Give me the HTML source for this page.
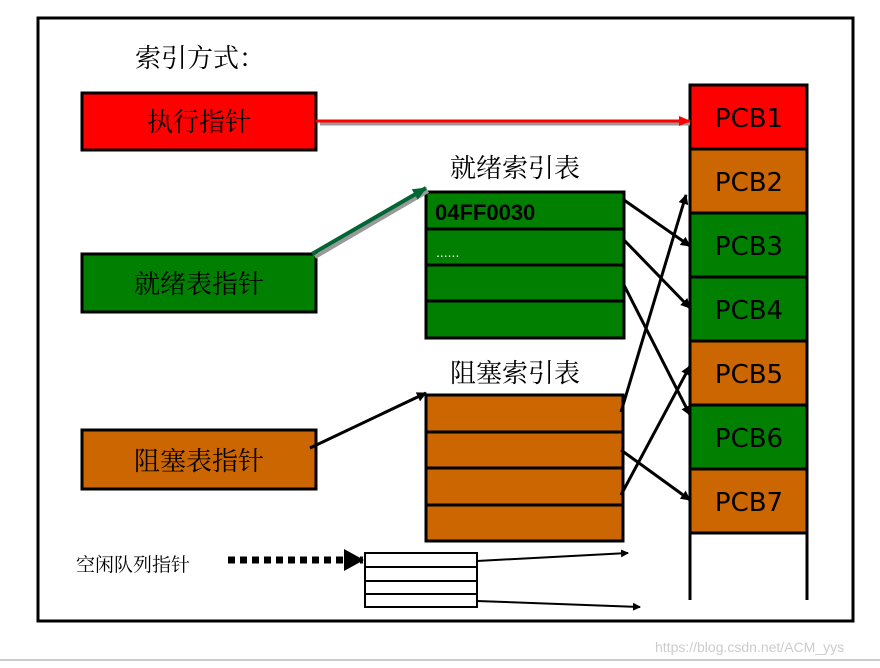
<!DOCTYPE html>
<html><head><meta charset="utf-8"><style>
body{margin:0;background:#fff}
text{font-family:"Liberation Sans","Noto Sans CJK SC",sans-serif}
.cn{font-family:"Noto Serif CJK SC","Noto Sans CJK SC",serif}
.p{font-family:"DejaVu Sans","Liberation Sans",sans-serif;font-size:26px}
</style></head><body>
<svg width="880" height="663" viewBox="0 0 880 663" xmlns="http://www.w3.org/2000/svg">
<defs>
<marker id="ab" markerWidth="10" markerHeight="10" refX="9" refY="5" orient="auto" markerUnits="userSpaceOnUse"><path d="M0,0 L10,5 L0,10 z" fill="#000"/></marker>
<marker id="ar" markerWidth="12" markerHeight="10" refX="11" refY="5" orient="auto" markerUnits="userSpaceOnUse"><path d="M0,0 L12,5 L0,10 z" fill="#f00"/></marker>
<marker id="ag" markerWidth="14" markerHeight="12" refX="13" refY="6" orient="auto" markerUnits="userSpaceOnUse"><path d="M0,0 L14,6 L0,12 z" fill="#063"/></marker>
<marker id="ad" markerWidth="20" markerHeight="22" refX="19" refY="11" orient="auto" markerUnits="userSpaceOnUse"><path d="M0,0 L20,11 L0,22 z" fill="#000"/></marker>
<marker id="as" markerWidth="8" markerHeight="8" refX="7" refY="4" orient="auto" markerUnits="userSpaceOnUse"><path d="M0,0 L8,4 L0,8 z" fill="#000"/></marker>
</defs>
<rect x="0" y="0" width="880" height="663" fill="#fff"/>
<line x1="0" y1="660" x2="880" y2="660" stroke="#ccc" stroke-width="2"/>
<rect x="38" y="18" width="815" height="603" fill="none" stroke="#000" stroke-width="3"/>
<text x="135" y="67" class="cn" font-size="26">索引方式：</text>

<rect x="82" y="93" width="234" height="57" fill="#f00" stroke="#000" stroke-width="3"/>
<text x="199" y="131" class="cn" font-size="26" text-anchor="middle">执行指针</text>
<rect x="82" y="254" width="234" height="58" fill="#007f00" stroke="#000" stroke-width="3"/>
<text x="199" y="293" class="cn" font-size="26" text-anchor="middle">就绪表指针</text>
<rect x="82" y="430" width="234" height="59" fill="#cc6600" stroke="#000" stroke-width="3"/>
<text x="199" y="470" class="cn" font-size="26" text-anchor="middle">阻塞表指针</text>

<text x="450" y="177" class="cn" font-size="26">就绪索引表</text>
<rect x="426" y="192" width="198" height="146" fill="#007f00" stroke="#000" stroke-width="3"/>
<g stroke="#000" stroke-width="3"><line x1="426" y1="229" x2="624" y2="229"/><line x1="426" y1="265" x2="624" y2="265"/><line x1="426" y1="301" x2="624" y2="301"/></g>
<text x="435" y="220" font-size="22" font-weight="bold" font-family="DejaVu Sans,Liberation Sans,sans-serif">04FF0030</text>
<text x="436" y="257" font-size="14" fill="#fff">......</text>

<text x="450" y="382" class="cn" font-size="26">阻塞索引表</text>
<rect x="426" y="395" width="197" height="146" fill="#cc6600" stroke="#000" stroke-width="3"/>
<g stroke="#000" stroke-width="3"><line x1="426" y1="432" x2="623" y2="432"/><line x1="426" y1="468" x2="623" y2="468"/><line x1="426" y1="505" x2="623" y2="505"/></g>

<g stroke="#000" stroke-width="3">
<rect x="690" y="85" width="117" height="64" fill="#f00"/>
<rect x="690" y="149" width="117" height="64" fill="#cc6600"/>
<rect x="690" y="213" width="117" height="64" fill="#007f00"/>
<rect x="690" y="277" width="117" height="64" fill="#007f00"/>
<rect x="690" y="341" width="117" height="64" fill="#cc6600"/>
<rect x="690" y="405" width="117" height="64" fill="#007f00"/>
<rect x="690" y="469" width="117" height="64" fill="#cc6600"/>
<line x1="690" y1="533" x2="690" y2="600"/><line x1="807" y1="533" x2="807" y2="600"/>
</g>
<g class="p" text-anchor="middle">
<text x="749" y="127" class="p">PCB1</text><text x="749" y="191" class="p">PCB2</text>
<text x="749" y="255" class="p">PCB3</text><text x="749" y="319" class="p">PCB4</text>
<text x="749" y="383" class="p">PCB5</text><text x="749" y="447" class="p">PCB6</text>
<text x="749" y="511" class="p">PCB7</text>
</g>

<line x1="320" y1="124" x2="690" y2="124" stroke="#999" stroke-width="3"/>
<line x1="316" y1="121" x2="690" y2="121" stroke="#f00" stroke-width="3" marker-end="url(#ar)"/>
<line x1="315" y1="257" x2="428" y2="191" stroke="#999" stroke-width="4"/>
<line x1="312" y1="254" x2="426" y2="188" stroke="#063" stroke-width="4" marker-end="url(#ag)"/>
<g stroke="#000" stroke-width="3" marker-end="url(#ab)">
<line x1="624" y1="200" x2="690" y2="246"/>
<line x1="624" y1="240" x2="690" y2="308"/>
<line x1="624" y1="285" x2="690" y2="415"/>
<line x1="621" y1="412" x2="686" y2="195"/>
<line x1="621" y1="450" x2="690" y2="500"/>
<line x1="621" y1="495" x2="690" y2="366"/>
<line x1="310" y1="448" x2="426" y2="393"/>
</g>

<text x="76" y="571" class="cn" font-size="19">空闲队列指针</text>
<line x1="228" y1="560" x2="363" y2="560" stroke="#000" stroke-width="7" stroke-dasharray="7,5" marker-end="url(#ad)"/>
<rect x="365" y="553" width="112" height="54" fill="#fff" stroke="#000" stroke-width="2"/>
<g stroke="#000" stroke-width="2"><line x1="365" y1="567" x2="477" y2="567"/><line x1="365" y1="581" x2="477" y2="581"/><line x1="365" y1="594" x2="477" y2="594"/></g>
<line x1="477" y1="561" x2="628" y2="553" stroke="#000" stroke-width="2" marker-end="url(#as)"/>
<line x1="477" y1="601" x2="640" y2="607" stroke="#000" stroke-width="2" marker-end="url(#as)"/>

<text x="655" y="652" font-size="14" fill="#ccc">https://blog.csdn.net/ACM_yys</text>
</svg>
</body></html>
